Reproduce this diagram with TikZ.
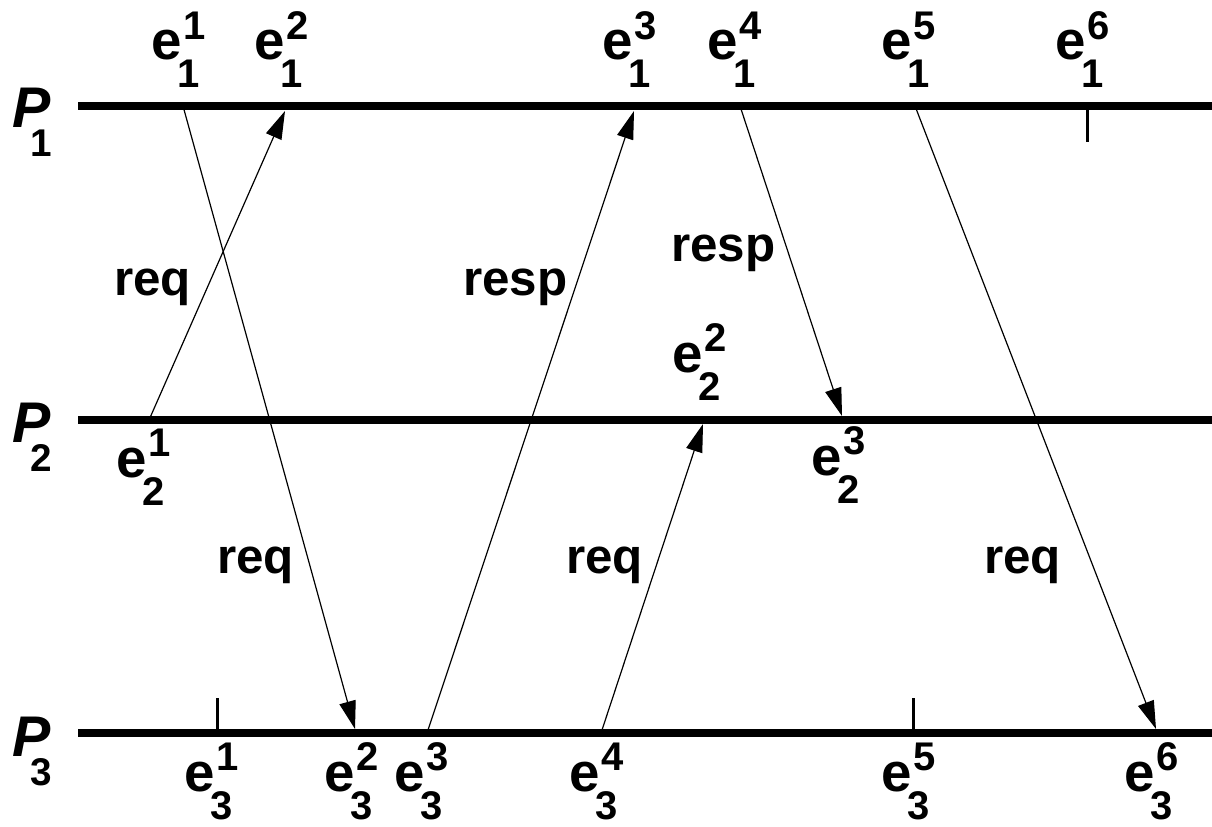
\documentclass[tikz,border=0pt]{standalone}
\usepackage{fontspec}
\setmainfont{Liberation Sans}
\usetikzlibrary{arrows.meta}
\newcommand{\ev}[2]{{\fontsize{41}{44}\selectfont e}\rlap{\kern1.5pt\raisebox{15.5pt}{\fontsize{30}{32}\selectfont #1}}\kern-3.5pt\raisebox{-21pt}{\fontsize{30}{32}\selectfont #2}}
\newcommand{\proclab}[1]{\rlap{\fontsize{43}{46}\selectfont\itshape P}\hspace{13.5pt}\raisebox{-21.75pt}{\fontsize{29}{32}\selectfont #1}}
\begin{document}
\begin{tikzpicture}[x=0.75pt,y=-0.75pt,
  proc/.style={line width=6pt},
  msg/.style={line width=0.9pt,-{Triangle[length=21pt,width=12.5pt]}},
  tickmark/.style={line width=2.25pt},
  lab/.style={inner sep=0pt,anchor=base west,font=\bfseries},
  mlab/.style={inner sep=0pt,anchor=base west,font=\bfseries\fontsize{37}{40}\selectfont}]
\useasboundingbox (0,0) rectangle (1212,827);
% event coordinates
\coordinate (a1) at (183,106);
\coordinate (a2) at (285,111);
\coordinate (a3) at (634,111);
\coordinate (a4) at (740,106);
\coordinate (a5) at (915,106);
\coordinate (a6) at (1087,106);
\coordinate (a6t) at (1087,142);
\coordinate (b1) at (149,420);
\coordinate (b2) at (703,424);
\coordinate (b3) at (842,416);
\coordinate (c1) at (217,733);
\coordinate (c1t) at (217,698);
\coordinate (c2) at (355,729);
\coordinate (c3) at (427,733);
\coordinate (c4) at (601,733);
\coordinate (c5) at (913,733);
\coordinate (c5t) at (913,698);
\coordinate (c6) at (1156,729);
% messages
\draw[msg] (b1) -- (a2);
\draw[msg] (a1) -- (c2);
\draw[msg] (c3) -- (a3);
\draw[msg] (c4) -- (b2);
\draw[msg] (a4) -- (b3);
\draw[msg] (a5) -- (c6);
% process lines
\coordinate (p1s) at (78,106); \coordinate (p1e) at (1212,106);
\coordinate (p2s) at (78,420); \coordinate (p2e) at (1212,420);
\coordinate (p3s) at (78,733); \coordinate (p3e) at (1212,733);
\draw[proc] (p1s) -- (p1e);
\draw[proc] (p2s) -- (p2e);
\draw[proc] (p3s) -- (p3e);
\draw[tickmark] (a6) -- (a6t);
\draw[tickmark] (c1) -- (c1t);
\draw[tickmark] (c5) -- (c5t);
% process labels
\node[lab] (P1) at (12,128) {\proclab{1}};
\node[lab] (P2) at (12,442) {\proclab{2}};
\node[lab] (P3) at (12,756) {\proclab{3}};
% event labels
\node[lab] (la1) at (151,60) {\ev{1}{1}};
\node[lab] (la2) at (254,60) {\ev{2}{1}};
\node[lab] (la3) at (602,60) {\ev{3}{1}};
\node[lab] (la4) at (707,60) {\ev{4}{1}};
\node[lab] (la5) at (881,60) {\ev{5}{1}};
\node[lab] (la6) at (1055,60) {\ev{6}{1}};
\node[lab] (lb1) at (116,477) {\ev{1}{2}};
\node[lab] (lb2) at (672,372) {\ev{2}{2}};
\node[lab] (lb3) at (811,475) {\ev{3}{2}};
\node[lab] (lc1) at (184,791) {\ev{1}{3}};
\node[lab] (lc2) at (324,791) {\ev{2}{3}};
\node[lab] (lc3) at (394,791) {\ev{3}{3}};
\node[lab] (lc4) at (569,791) {\ev{4}{3}};
\node[lab] (lc5) at (881,791) {\ev{5}{3}};
\node[lab] (lc6) at (1124,791) {\ev{6}{3}};
% message labels
\node[mlab] (m1) at (114,295) {req};
\node[mlab] (m2) at (217,573) {req};
\node[mlab] (m3) at (463,295) {resp};
\node[mlab] (m4) at (566,573) {req};
\node[mlab] (m5) at (671,262) {resp};
\node[mlab] (m6) at (984,573) {req};
\end{tikzpicture}
\end{document}
